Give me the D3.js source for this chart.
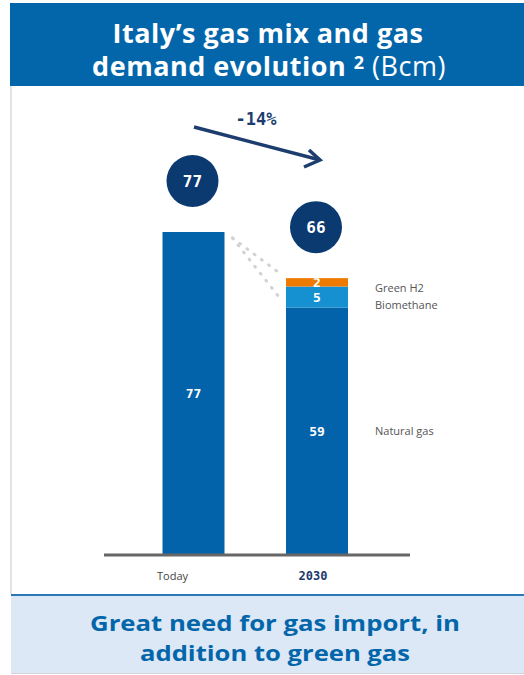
<!DOCTYPE html>
<html><head><meta charset="utf-8">
<script src="https://cdn.jsdelivr.net/npm/d3@7"></script>
<style>body{margin:0;background:#fff}svg{display:block}</style>
</head><body>
<script>
const categories = ["Today", "2030"];
const seriesNames = ["Natural gas", "Biomethane", "Green H2"];
const naturalGas = [77, 59];
const biomethane = [0, 5];
const greenH2 = [0, 2];
const totals = [77, 66];
const changeLabel = "-14%";

const W = 524, H = 675;
const svg = d3.select("body").append("svg").attr("width", W).attr("height", H);

// header band
svg.append("rect").attr("x", 10).attr("y", 3).attr("width", W - 10).attr("height", 83).attr("fill", "#0466AA");
const tt = svg.append("text").attr("text-anchor", "middle").attr("fill", "#fff")
  .attr("font-family", "Open Sans, Lato, sans-serif").attr("font-weight", 700).attr("font-size", 27)
  .attr("letter-spacing", 0.5);
tt.append("tspan").attr("x", 268).attr("y", 43).text("Italy’s gas mix and gas");
const l2 = tt.append("tspan").attr("x", 269).attr("y", 76);
l2.append("tspan").text("demand evolution ");
l2.append("tspan").attr("font-size", 18).attr("dy", -7).text("2");
l2.append("tspan").attr("dy", 7).attr("font-weight", 400).text(" (Bcm)");

// left border
svg.append("line").attr("x1", 11).attr("x2", 11).attr("y1", 86).attr("y2", 594).attr("stroke", "#e3e3e3").attr("stroke-width", 2);

// footer
svg.append("rect").attr("x", 11).attr("y", 595).attr("width", W - 11).attr("height", 78).attr("fill", "#DCE8F6");
svg.append("line").attr("x1", 11).attr("x2", W).attr("y1", 595).attr("y2", 595).attr("stroke", "#2A78B6").attr("stroke-width", 2);
svg.append("line").attr("x1", 11).attr("x2", W).attr("y1", 673.5).attr("y2", 673.5).attr("stroke", "#d0d4d8").attr("stroke-width", 1);
[["Great need for gas import, in", 631, 370], ["addition to green gas", 661, 270]].forEach(([t, yy, len]) => {
  svg.append("text").attr("x", 275).attr("y", yy).attr("text-anchor", "middle").attr("fill", "#0466AA")
    .attr("font-family", "Open Sans, Lato, sans-serif").attr("font-weight", 700).attr("font-size", 22)
    .attr("textLength", len).attr("lengthAdjust", "spacingAndGlyphs").text(t);
});

// scales
const xp = d3.scalePoint().domain(categories).range([193.5, 317]);
const y = d3.scaleLinear().domain([0, 77]).range([555, 232]);
const bw = 62;
const cx = c => xp(c);

const colors = {"Natural gas": "#0363AA", "Biomethane": "#1590D1", "Green H2": "#EE7A00"};
const rows = categories.map((c, i) => ({cat: c, "Natural gas": naturalGas[i], "Biomethane": biomethane[i], "Green H2": greenH2[i]}));
const stack = d3.stack().keys(seriesNames)(rows);

const g = svg.append("g");
stack.forEach(layer => {
  layer.forEach(d => {
    const v = d[1] - d[0];
    if (v <= 0) return;
    const c = d.data.cat;
    g.append("rect").attr("x", cx(c) - bw / 2).attr("width", bw)
      .attr("y", y(d[1])).attr("height", y(d[0]) - y(d[1])).attr("fill", colors[layer.key]);
    g.append("text").attr("x", cx(c)).attr("y", (y(d[0]) + y(d[1])) / 2).attr("dy", "0.35em")
      .attr("text-anchor", "middle").attr("fill", "#fff").attr("font-family", "DejaVu Sans Mono, monospace")
      .attr("font-weight", 700).attr("font-size", 13).text(v);
  });
});

// axis baseline
svg.append("line").attr("x1", 104).attr("x2", 410).attr("y1", 555).attr("y2", 555).attr("stroke", "#666").attr("stroke-width", 3);
// category labels
svg.append("text").attr("x", cx("Today") - 21).attr("y", 580).attr("text-anchor", "middle")
  .attr("font-family", "Open Sans, sans-serif").attr("font-size", 11).attr("fill", "#444").text(categories[0]);
svg.append("text").attr("x", cx("2030") - 4).attr("y", 580).attr("text-anchor", "middle")
  .attr("font-family", "DejaVu Sans Mono, monospace").attr("font-weight", 700).attr("font-size", 12).attr("fill", "#1B3A6E").text(categories[1]);

// legend labels at the right of 2030 bar
const last = stack.map(l => l[1]);
seriesNames.forEach((s, k) => {
  const d = last[k];
  let yy = (y(d[0]) + y(d[1])) / 2;
  if (s === "Green H2") yy = y(d[1]) + 10;
  if (s === "Biomethane") yy = y(d[1]) + 19;
  svg.append("text").attr("x", 375).attr("y", yy).attr("dy", "0.35em")
    .attr("font-family", "Open Sans, sans-serif").attr("font-size", 11).attr("fill", "#555").text(s);
});

// dotted connectors
const topToday = y(totals[0]);
const x0 = cx("Today") + bw / 2 + 8;
const x1 = cx("2030") - bw / 2 - 5;
[y(totals[1]) - 4, y(naturalGas[1]) - 8].forEach(ye => {
  svg.append("line").attr("x1", x0).attr("y1", topToday + 6).attr("x2", x1).attr("y2", ye)
    .attr("stroke", "#d2d2d2").attr("stroke-width", 3).attr("stroke-dasharray", "1,8").attr("stroke-linecap", "round");
});

// total circles
categories.forEach((c, i) => {
  const cy = y(totals[i]) - 51;
  svg.append("circle").attr("cx", cx(c) - 1).attr("cy", cy).attr("r", 26).attr("fill", "#0B3A70");
  svg.append("text").attr("x", cx(c) - 1).attr("y", cy).attr("dy", "0.35em").attr("text-anchor", "middle")
    .attr("fill", "#fff").attr("font-family", "DejaVu Sans Mono, monospace").attr("font-weight", 700).attr("font-size", 16).text(totals[i]);
});

// arrow
const ax0 = 194, ay0 = 127, ax1 = 320, ay1 = 160;
svg.append("line").attr("x1", ax0).attr("y1", ay0).attr("x2", ax1).attr("y2", ay1)
  .attr("stroke", "#1D3D6E").attr("stroke-width", 3.5);
svg.append("path").attr("d", `M${ax1 - 11},${ay1 - 10} L${ax1},${ay1} L${ax1 - 16},${ay1 + 7}`)
  .attr("fill", "none").attr("stroke", "#1D3D6E").attr("stroke-width", 3.5);
svg.append("text").attr("x", 256).attr("y", 125).attr("text-anchor", "middle")
  .attr("font-family", "DejaVu Sans Mono, monospace").attr("font-weight", 700).attr("font-size", 17).attr("fill", "#1D3D6E").text(changeLabel);
</script>
</body></html>
